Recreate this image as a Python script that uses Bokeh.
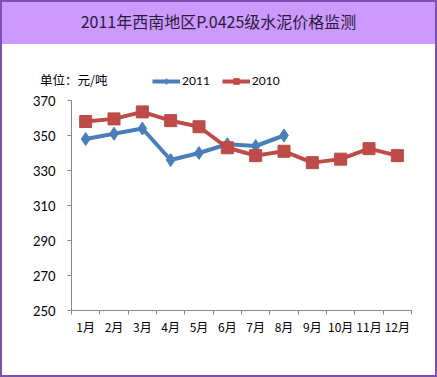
from bokeh.plotting import figure
from bokeh.layouts import column, row
from bokeh.models import FixedTicker, Legend, LegendItem, Range1d, Div
from bokeh.embed import file_html
from bokeh.resources import INLINE

# ---- data ----
months = ["1月", "2月", "3月", "4月", "5月", "6月", "7月", "8月", "9月", "10月", "11月", "12月"]
price_2011 = [348, 351, 354, 336, 340, 345, 344, 350]
price_2010 = [358, 359.5, 363.5, 358.5, 355, 343, 338.5, 341, 334.5, 336.5, 342.5, 338.5]
y_ticks = [250, 270, 290, 310, 330, 350, 370]
title_text = "2011年西南地区P.0425级水泥价格监测"
unit_text = "单位：元/吨"
series_names = ["2011", "2010"]

BLUE = "#4A7EBB"
RED = "#BE4B48"
PURPLE_BG = "#CC99FF"
PURPLE_LINE = "#7F4FB0"
AXIS = "#868686"

x_pos = [i + 0.5 for i in range(len(months))]

W = 433
UNIT_W = 148

header = Div(text=title_text, width=W, height=42, margin=0,
             styles={"background-color": PURPLE_BG, "text-align": "center",
                     "font-family": "Noto Sans CJK SC", "font-size": "16px",
                     "line-height": "38px", "color": "#2B1B3A"})

# ---- legend strip: unit text + legend ----
unit_div = Div(text=unit_text, width=UNIT_W, height=48, margin=0,
               styles={"font-family": "Noto Sans CJK SC", "font-size": "12.5px",
                       "line-height": "72px", "text-indent": "38px", "color": "#000000",
                       "white-space": "nowrap", "background-color": "white"})

lg = figure(width=W - UNIT_W, height=48, output_backend="svg", toolbar_location=None,
            x_range=Range1d(0, 1), y_range=Range1d(0, 1),
            x_axis_location=None, y_axis_location=None,
            min_border=0, min_border_left=0, min_border_right=0,
            min_border_top=0, min_border_bottom=0, margin=0)
lg.grid.visible = False
lg.outline_line_color = None
lg.border_fill_color = "white"
k11_l = lg.line([-10], [-10], line_color=BLUE, line_width=4)
k11_m = lg.scatter([-10], [-10], marker="diamond", size=13, fill_color=BLUE, line_color=BLUE)
k10_l = lg.line([-10], [-10], line_color=RED, line_width=4)
k10_m = lg.scatter([-10], [-10], marker="square", size=12, fill_color=RED, line_color=RED)
legend = Legend(items=[LegendItem(label=series_names[0], renderers=[k11_l, k11_m]),
                       LegendItem(label=series_names[1], renderers=[k10_l, k10_m])],
                orientation="horizontal", location=(2, 4),
                glyph_width=28, glyph_height=14, label_standoff=2, spacing=12,
                padding=0, margin=0, border_line_color=None, background_fill_alpha=0,
                label_text_font="Lato", label_text_font_size="12px",
                label_text_color="#000000")
lg.add_layout(legend, "center")

strip = row(unit_div, lg, spacing=0, margin=0)

# ---- main chart ----
p = figure(width=W, height=283, output_backend="svg", toolbar_location=None,
           x_range=Range1d(0, 12), y_range=Range1d(250, 370), margin=0,
           min_border_left=69, min_border_right=24, min_border_top=8, min_border_bottom=65)
p.background_fill_color = "white"
p.border_fill_color = "white"
p.outline_line_color = None
p.xgrid.visible = False
p.ygrid.visible = False

p.line(x_pos[:len(price_2011)], price_2011, line_color=BLUE, line_width=4)
p.scatter(x_pos[:len(price_2011)], price_2011, marker="diamond", size=13,
          fill_color=BLUE, line_color=BLUE)
p.line(x_pos, price_2010, line_color=RED, line_width=4)
p.scatter(x_pos, price_2010, marker="square", size=12, fill_color=RED, line_color=RED)

p.xaxis.ticker = FixedTicker(ticks=x_pos, minor_ticks=list(range(13)))
p.xaxis.major_label_overrides = {x: m for x, m in zip(x_pos, months)}
p.xaxis.major_tick_out = 0
p.xaxis.major_tick_in = 0
p.xaxis.minor_tick_out = 4
p.xaxis.minor_tick_in = 0
p.xaxis.minor_tick_line_color = AXIS
p.xaxis.axis_line_color = AXIS
p.xaxis.major_label_standoff = 3
p.xaxis.major_label_text_font = "Noto Sans CJK SC"
p.xaxis.major_label_text_font_size = "12px"
p.xaxis.major_label_text_color = "#000000"

p.yaxis.ticker = FixedTicker(ticks=y_ticks)
p.yaxis.major_tick_out = 4
p.yaxis.major_tick_in = 0
p.yaxis.minor_tick_line_color = None
p.yaxis.axis_line_color = AXIS
p.yaxis.major_tick_line_color = AXIS
p.yaxis.major_label_standoff = 12
p.yaxis.major_label_text_font = "Lato"
p.yaxis.major_label_text_font_size = "13px"
p.yaxis.major_label_text_color = "#000000"

layout = column(header, strip, p, spacing=0, margin=0,
                styles={"border": "2px solid " + PURPLE_LINE})

open("out.html", "w").write(file_html(layout, INLINE))
